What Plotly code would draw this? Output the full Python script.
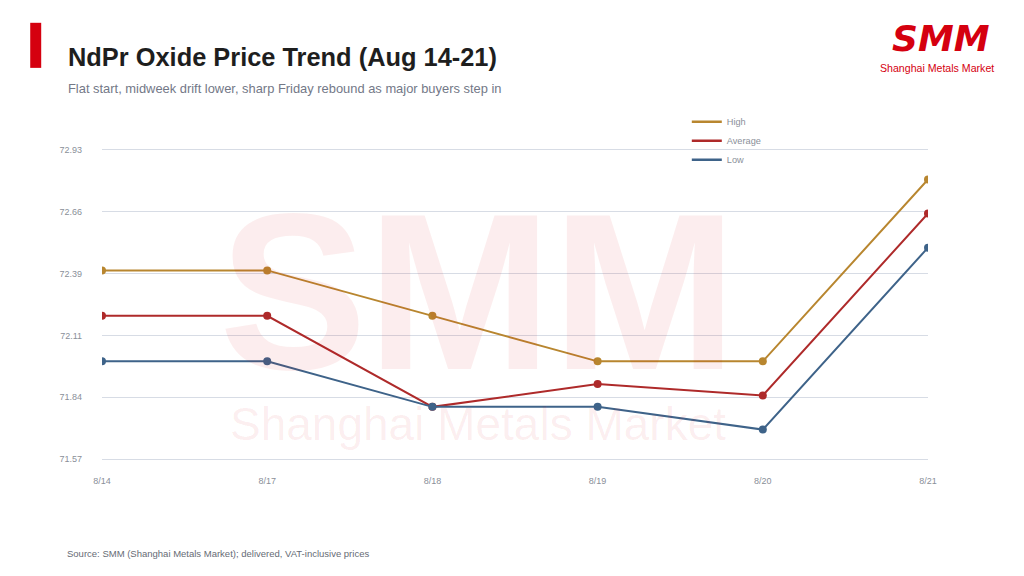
import plotly.graph_objects as go

dates = ["8/14", "8/17", "8/18", "8/19", "8/20", "8/21"]
high = [72.40, 72.40, 72.20, 72.00, 72.00, 72.80]
average = [72.20, 72.20, 71.80, 71.90, 71.85, 72.65]
low = [72.00, 72.00, 71.80, 71.80, 71.70, 72.50]

y_ticks = [71.57, 71.842, 72.114, 72.386, 72.658, 72.93]
y_tick_text = ["71.57", "71.84", "72.11", "72.39", "72.66", "72.93"]

series = [("High", high, "#B8862F"), ("Average", average, "#AE2A2A"), ("Low", low, "#3E6389")]

fig = go.Figure()

for name, vals, color in series:
    fig.add_trace(go.Scatter(x=dates, y=vals, mode="lines+markers", name=name,
                             line=dict(color=color, width=2),
                             marker=dict(color=color, size=8),
                             showlegend=False))

# legend shows plain line swatches
for name, vals, color in series:
    fig.add_trace(go.Scatter(x=[None], y=[None], mode="lines", name=name,
                             line=dict(color=color, width=2.5)))

# watermark
fig.add_annotation(text="<b>SMM</b>", xref="paper", yref="paper", x=0.455, y=0.54,
                   showarrow=False, font=dict(family="Liberation Sans", size=222, color="rgba(215,0,15,0.07)"))
fig.add_annotation(text="Shanghai Metals Market", xref="paper", yref="paper", x=0.455, y=0.03,
                   showarrow=False, font=dict(family="Liberation Sans", size=46, color="rgba(215,0,15,0.07)"))

# header
fig.add_shape(type="rect", xref="paper", yref="paper", x0=-0.0869, x1=-0.0736, y0=1.256, y1=1.4,
              fillcolor="#D5000F", line_width=0)
fig.add_annotation(text="<b>NdPr Oxide Price Trend (Aug 14-21)</b>", xref="paper", yref="paper",
                   x=-0.0435, y=1.29, xanchor="left", yanchor="middle", showarrow=False,
                   font=dict(family="Liberation Sans", size=25.4, color="#1E1E1E"))
fig.add_annotation(text="Flat start, midweek drift lower, sharp Friday rebound as major buyers step in",
                   xref="paper", yref="paper", x=-0.0435, y=1.19, xanchor="left", yanchor="middle",
                   showarrow=False, font=dict(family="Liberation Sans", size=12.9, color="#737887"))

# logo
fig.add_annotation(text="<b><i>SMM</i></b>", xref="paper", yref="paper", x=1.0155, y=1.35,
                   xanchor="center", yanchor="middle", showarrow=False,
                   font=dict(family="DejaVu Sans", size=36, color="#D5000F"))
fig.add_annotation(text="Shanghai Metals Market", xref="paper", yref="paper", x=1.0115, y=1.257,
                   xanchor="center", yanchor="middle", showarrow=False,
                   font=dict(family="Liberation Sans", size=10.6, color="#D5000F"))

fig.add_annotation(text="Source: SMM (Shanghai Metals Market); delivered, VAT-inclusive prices",
                   xref="paper", yref="paper", x=-0.0448, y=-0.295, xanchor="left", yanchor="middle",
                   showarrow=False, font=dict(family="Liberation Sans", size=9.5, color="#666B75"))

# page has an 8px body margin, so the figure is 8px smaller
fig.update_layout(
    width=1016, height=568,
    margin=dict(l=94, r=96, t=140, b=115),
    paper_bgcolor="white", plot_bgcolor="white",
    font=dict(family="Liberation Sans", size=9, color="#8A8F99"),
    legend=dict(x=0.708, y=1.13, xanchor="left", yanchor="top", bgcolor="rgba(0,0,0,0)",
                font=dict(size=9.2, color="#8A8F99"), itemwidth=30, tracegroupgap=0),
)
fig.update_xaxes(showgrid=False, showline=False, zeroline=False, range=[0, 5],
                 ticklabelstandoff=13, tickfont=dict(size=9, color="#8A8F99"))
fig.update_yaxes(range=[71.562, 72.938], tickvals=y_ticks, ticktext=y_tick_text,
                 showgrid=True, gridcolor="#D7DCE5", gridwidth=1, zeroline=False, showline=False,
                 ticklabelstandoff=19, tickfont=dict(size=9, color="#8A8F99"))

fig.write_html("out.html")
